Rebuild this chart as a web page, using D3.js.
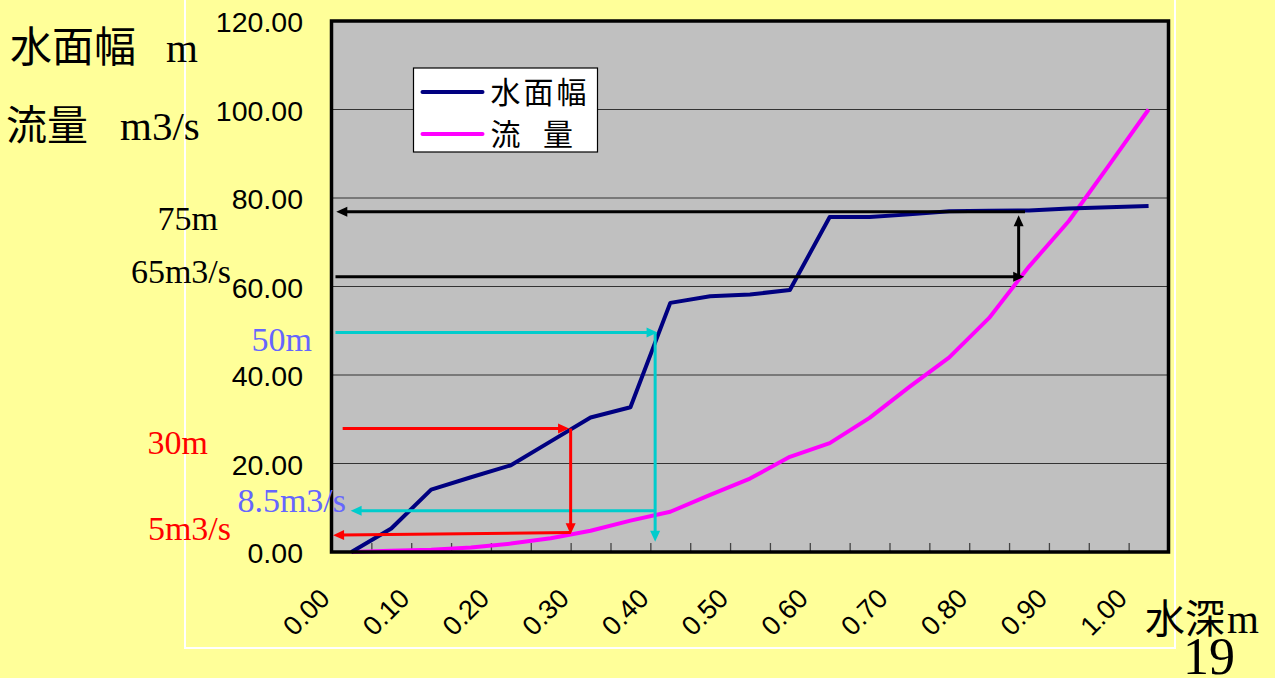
<!DOCTYPE html>
<head>
  <meta charset="utf-8">
  <script src="https://d3js.org/d3.v7.min.js"></script>
  <style>
    body { margin:0; background:#FFFF99; overflow:hidden; }
    text { white-space: pre; }
  </style>
</head>
<body>
<script>
// depth categories (m) -- every 0.05
var depths = [0.00,0.05,0.10,0.15,0.20,0.25,0.30,0.35,0.40,0.45,0.50,
              0.55,0.60,0.65,0.70,0.75,0.80,0.85,0.90,0.95,1.00];
// 水面幅 (m)
var surfaceWidth = [0,5.3,14.1,16.9,19.6,25.0,30.4,32.7,56.3,57.8,58.2,
                    59.2,75.7,75.7,76.3,77.0,77.1,77.2,77.6,77.9,78.2];
// 流量 (m3/s)
var discharge = [0,0.3,0.5,1.0,1.9,3.1,4.8,7.1,9.1,12.9,16.6,
                 21.5,24.6,30.3,37.3,44.0,52.9,64.5,74.8,87.3,100];
var seriesNames = ["水面幅", "流  量"];
var yTicks = [0,20,40,60,80,100,120];
var xLabels = [0,0.1,0.2,0.3,0.4,0.5,0.6,0.7,0.8,0.9,1.0];

// reading guides: [depth, value] -> [depth, value]
var guides = [
  {from:[0.845,76.9], to:[-0.019,76.9], color:"#000000"},
  {from:[-0.020,62.2], to:[0.844,62.2], color:"#000000"},
  {from:[0.837,62.2], to:[0.837,76.1], color:"#000000"},
  {from:[-0.020,49.6], to:[0.384,49.6], color:"#00CCCC"},
  {from:[0.381,49.6], to:[0.381,2.3], color:"#00CCCC"},
  {from:[0.381,9.3], to:[-0.001,9.3], color:"#00CCCC"},
  {from:[-0.011,27.9], to:[0.273,27.9], color:"#FF0000"},
  {from:[0.275,27.9], to:[0.275,4.0], color:"#FF0000"},
  {from:[0.275,4.4], to:[-0.023,3.8], color:"#FF0000"}
];

var width = 1275, height = 678;
var plot = {left:331.5, right:1168.5, top:21, bottom:552};
var serif = "'Liberation Serif','Times New Roman',serif";
var sans = "'Liberation Sans',Arial,sans-serif";
var cjk = "'Noto Sans CJK JP','Noto Sans CJK SC',sans-serif";

var svg = d3.select("body").append("svg")
  .attr("width", width)
  .attr("height", height);

svg.append("rect").attr("width", width).attr("height", height).attr("fill", "#FFFF99");

// chart area white frame
svg.append("path")
  .attr("d", "M185,0 V648 H1175 V0")
  .attr("fill", "none").attr("stroke", "#fff").attr("stroke-width", 2);

var x = d3.scaleLinear().domain([-0.025, 1.025]).range([plot.left, plot.right]);
var y = d3.scaleLinear().domain([0, 120]).range([plot.bottom, plot.top]);

svg.append("rect")
  .attr("x", plot.left).attr("y", plot.top)
  .attr("width", plot.right - plot.left).attr("height", plot.bottom - plot.top)
  .attr("fill", "#C0C0C0");

// gridlines
svg.append("g").selectAll("line").data(yTicks.slice(1, -1)).enter().append("line")
  .attr("x1", plot.left).attr("x2", plot.right)
  .attr("y1", function(d){ return y(d); }).attr("y2", function(d){ return y(d); })
  .attr("stroke", "#333").attr("stroke-width", 1.2);

// category tick marks (between categories)
var bounds = d3.range(1, depths.length).map(function(i){ return depths[i] - 0.025; });
svg.append("g")
  .attr("transform", "translate(0," + plot.bottom + ")")
  .call(d3.axisBottom(x).tickValues(bounds).tickSizeInner(-9).tickSizeOuter(0).tickFormat(""))
  .call(function(g){ g.select(".domain").remove(); })
  .selectAll("line").attr("stroke", "#444").attr("stroke-width", 1.3);

// y labels
svg.append("g").selectAll("text").data(yTicks).enter().append("text")
  .attr("x", 303).attr("y", function(d){ return y(d) + 11; })
  .attr("text-anchor", "end")
  .style("font-family", sans).style("font-size", "28.5px")
  .text(function(d){ return d3.format(".2f")(d); });

// x labels
svg.append("g").selectAll("text").data(xLabels).enter().append("text")
  .attr("transform", function(d){ return "translate(" + (x(d) - 20) + "," + (plot.bottom + 48) + ") rotate(-45)"; })
  .attr("text-anchor", "end")
  .style("font-family", sans).style("font-size", "27px")
  .text(function(d){ return d3.format(".2f")(d); });

// series
var line = d3.line()
  .x(function(d){ return x(d[0]); })
  .y(function(d){ return y(d[1]); });

svg.append("path")
  .datum(d3.zip(depths, discharge))
  .attr("d", line).attr("fill", "none")
  .attr("stroke", "#FF00FF").attr("stroke-width", 4).attr("stroke-linejoin", "round");

svg.append("path")
  .datum(d3.zip(depths, surfaceWidth))
  .attr("d", line).attr("fill", "none")
  .attr("stroke", "#000080").attr("stroke-width", 4).attr("stroke-linejoin", "round");

// guide arrows
var gg = svg.append("g");
guides.forEach(function(a){
  var x1 = x(a.from[0]), y1 = y(a.from[1]), x2 = x(a.to[0]), y2 = y(a.to[1]);
  var dx = x2 - x1, dy = y2 - y1, len = Math.sqrt(dx*dx + dy*dy);
  var ux = dx/len, uy = dy/len, hl = 11, hw = 5;
  gg.append("line")
    .attr("x1", x1).attr("y1", y1)
    .attr("x2", x2 - ux*hl*0.7).attr("y2", y2 - uy*hl*0.7)
    .attr("stroke", a.color).attr("stroke-width", 3);
  var bx = x2 - ux*hl, by = y2 - uy*hl;
  gg.append("path")
    .attr("d", "M" + x2 + "," + y2 + "L" + (bx - uy*hw) + "," + (by + ux*hw) +
               "L" + (bx + uy*hw) + "," + (by - ux*hw) + "Z")
    .attr("fill", a.color);
});

// plot border
svg.append("rect")
  .attr("x", plot.left).attr("y", plot.top)
  .attr("width", plot.right - plot.left).attr("height", plot.bottom - plot.top)
  .attr("fill", "none").attr("stroke", "#000").attr("stroke-width", 3.5);

// legend
var lg = svg.append("g").attr("transform", "translate(413.5,68)");
lg.append("rect").attr("width", 184).attr("height", 84)
  .attr("fill", "#fff").attr("stroke", "#000").attr("stroke-width", 1.2);
[["#000080", 24], ["#FF00FF", 66]].forEach(function(s, i){
  lg.append("line").attr("x1", 9).attr("x2", 69).attr("y1", s[1]).attr("y2", s[1])
    .attr("stroke", s[0]).attr("stroke-width", 4).attr("stroke-linecap", "round");
  lg.append("text").attr("x", 77).attr("y", s[1] + 11)
    .style("font-family", cjk).style("font-size", "30px").style("letter-spacing", "3px")
    .text(seriesNames[i]);
});

// axis titles
function titled(xp, yp, cj, ux, unit, cs, us){
  var t = svg.append("text").attr("y", yp);
  t.append("tspan").attr("x", xp).style("font-family", cjk).style("font-size", cs + "px").text(cj);
  t.append("tspan").attr("x", ux).style("font-family", serif).style("font-size", us + "px").text(unit);
}
titled(10, 62, "水面幅", 166, "m", 42, 41);
titled(6, 140, "流量", 120, "m3/s", 41, 41);
titled(1145, 633, "水深", 1227, "m", 40, 41);

svg.append("text").attr("x", 1183).attr("y", 674)
  .style("font-family", serif).style("font-size", "52px").text("19");

// guide labels
var notes = [
  ["75m", 218, 230, "#000"], ["65m3/s", 231, 283, "#000"],
  ["50m", 312, 351, "#6666FF"], ["30m", 208, 454, "#FF0000"],
  ["8.5m3/s", 346, 512, "#6666FF"], ["5m3/s", 231, 540, "#FF0000"]
];
svg.append("g").selectAll("text").data(notes).enter().append("text")
  .attr("x", function(d){ return d[1]; }).attr("y", function(d){ return d[2]; })
  .attr("text-anchor", "end").attr("fill", function(d){ return d[3]; })
  .style("font-family", serif).style("font-size", "34px")
  .text(function(d){ return d[0]; });
</script>
</body>
